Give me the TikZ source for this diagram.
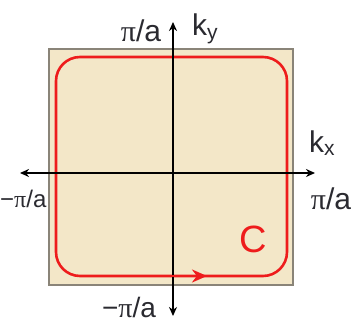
\documentclass[tikz,border=0pt]{standalone}
\usepackage{fontspec}
\setmainfont{Liberation Sans}
\newfontfamily\pifont{Liberation Serif}
\usetikzlibrary{arrows.meta}
\definecolor{bz}{HTML}{F3E7C8}
\definecolor{bzedge}{HTML}{8A8478}
\definecolor{loopred}{HTML}{EE1C1C}
\definecolor{ink}{HTML}{2A2A30}
\tikzset{
  axis/.style={line width=1.6pt,-{Stealth[length=9pt,width=8pt]}},
  lbl/.style={inner sep=0pt,font=\fontsize{30}{30}\selectfont,text=ink},
  zone/.style={fill=bz,draw=bzedge,line width=1.2pt},
  contour/.style={draw=loopred,line width=2.6pt,rounded corners=24pt},
}
\begin{document}
\begin{tikzpicture}[x=1pt,y=-1pt]
\useasboundingbox (0,0) rectangle (353,326);
\draw[zone] (49,49) rectangle (293,285);
\coordinate (o) at (173,173);
\coordinate (xl) at (20,173);
\coordinate (xr) at (315,173);
\coordinate (yt) at (173,22);
\coordinate (yb) at (173,316);
\draw[contour] (190,276) -- (287,276) -- (287,57) -- (56,57) -- (56,276) -- cycle;
\draw[axis] (o) -- (xr);
\draw[axis] (o) -- (xl);
\draw[axis] (o) -- (yt);
\draw[axis] (o) -- (yb);
\draw[loopred,line width=2.6pt,-{Stealth[length=15pt,width=13pt]}] (150,276) -- (207,276);
\node[lbl] (pt) at (141,31) {{\pifont π}/a};
\node[lbl] (ky) at (205,29) {k\textsubscript{y}};
\node[lbl] (kx) at (322,143) {k\textsubscript{x}};
\node[lbl] (pr) at (331,199) {{\pifont π}/a};
\node[lbl,anchor=west,font=\fontsize{24}{24}\selectfont] (pl) at (0,199) {−{\pifont π}/a};
\node[lbl,anchor=south,font=\fontsize{28}{28}\selectfont] (pb) at (129,318) {−{\pifont π}/a};
\node[inner sep=0pt,font=\fontsize{38}{38}\selectfont,text=loopred] (c) at (253,239) {C};
\end{tikzpicture}
\end{document}
